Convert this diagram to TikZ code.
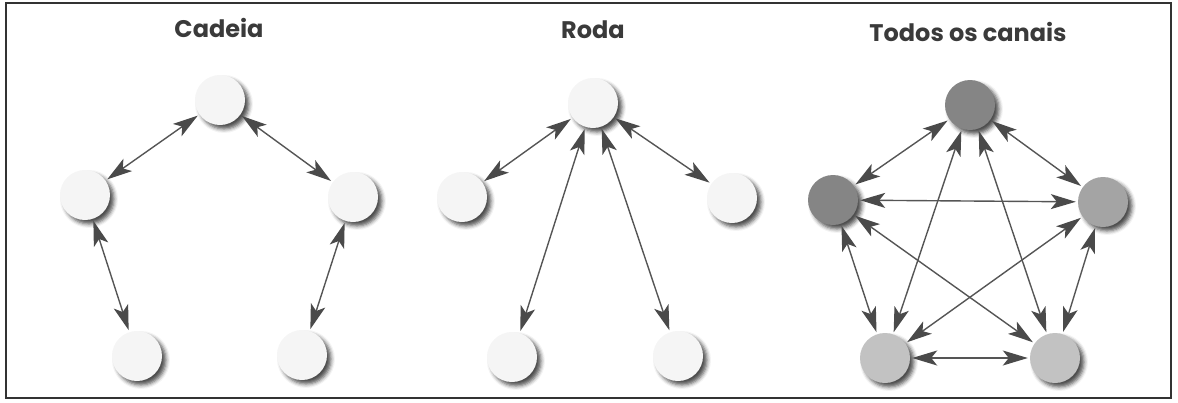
\documentclass[tikz,border=0pt]{standalone}
\usepackage{fontspec}
\setmainfont{Poppins}
\usetikzlibrary{arrows.meta,shadows.blur}
\definecolor{arrowgray}{HTML}{555555}
\definecolor{headgray}{HTML}{4A4A4A}
\definecolor{titlegray}{HTML}{3A3A3A}
\definecolor{nodelight}{HTML}{F5F5F5}
\definecolor{nodedark}{HTML}{858585}
\definecolor{nodemid}{HTML}{A4A4A4}
\definecolor{nodepale}{HTML}{C2C2C2}
\tikzset{
  member/.style={circle, minimum size=50pt, inner sep=0pt, fill=nodelight,
    blur shadow={shadow xshift=4pt, shadow yshift=-4pt, shadow blur radius=4pt, shadow opacity=70}},
  titletext/.style={font=\bfseries\fontsize{24}{26}\selectfont, text=titlegray},
  link/.style={draw=arrowgray, line width=1.4pt,
    {Stealth[length=25pt,width=15pt,inset=6pt,color=headgray,fill=headgray]}-{Stealth[length=25pt,width=15pt,inset=6pt,color=headgray,fill=headgray]},
    shorten <=2pt, shorten >=2pt},
  frame/.style={draw=black!80, line width=1.6pt}
}
\begin{document}
\begin{tikzpicture}[x=1pt,y=-1pt]
\useasboundingbox (0,0) rectangle (1178,402);
\draw[frame] (6,3) rectangle (1171,398);

% Cadeia
\node[titletext] (t1) at (219,28) {Cadeia};
\node[member] (a1) at (220,100) {};
\node[member] (a2) at (85,195) {};
\node[member] (a3) at (353,197) {};
\node[member] (a4) at (137,356) {};
\node[member] (a5) at (302,355) {};
\draw[link] (a2) -- (a1);
\draw[link] (a1) -- (a3);
\draw[link] (a2) -- (a4);
\draw[link] (a3) -- (a5);

% Roda
\node[titletext] (t2) at (593,30) {Roda};
\node[member] (b1) at (593,103) {};
\node[member] (b2) at (462,197) {};
\node[member] (b3) at (732,198) {};
\node[member] (b4) at (512,357) {};
\node[member] (b5) at (678,356) {};
\draw[link] (b2) -- (b1);
\draw[link] (b1) -- (b3);
\draw[link] (b1) -- (b4);
\draw[link] (b1) -- (b5);

% Todos os canais
\node[titletext] (t3) at (968,32) {Todos os canais};
\node[member, fill=nodedark] (c1) at (970,105) {};
\node[member, fill=nodedark] (c2) at (833,200) {};
\node[member, fill=nodemid] (c3) at (1103,202) {};
\node[member, fill=nodepale] (c4) at (885,358) {};
\node[member, fill=nodepale] (c5) at (1055,358) {};
\draw[link] (c2) -- (c1);
\draw[link] (c1) -- (c3);
\draw[link] (c2) -- (c4);
\draw[link] (c3) -- (c5);
\draw[link] (c4) -- (c5);
\draw[link] (c2) -- (c3);
\draw[link] (c1) -- (c4);
\draw[link] (c1) -- (c5);
\draw[link] (c2) -- (c5);
\draw[link] (c3) -- (c4);
\end{tikzpicture}
\end{document}
